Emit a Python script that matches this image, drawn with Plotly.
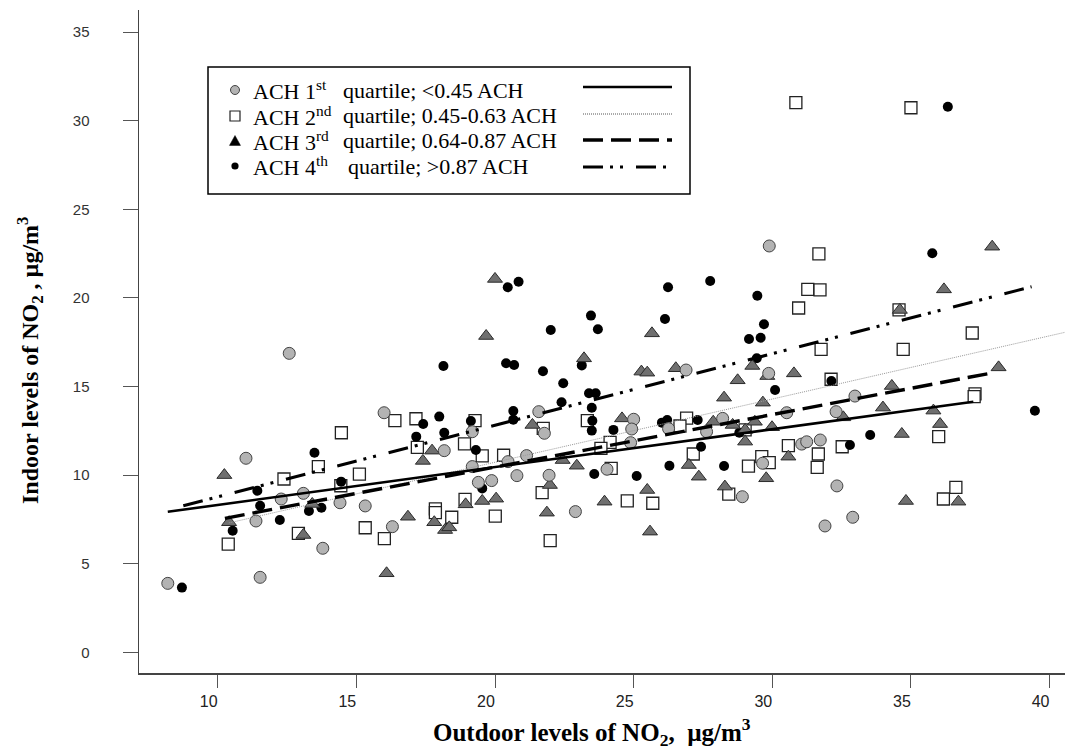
import plotly.graph_objects as go

# ---------------- data ----------------
q1_x = [12.58, 16.0, 11.02, 18.17, 13.09, 12.29, 14.41, 15.32, 11.38, 16.30, 13.79, 11.53, 8.20,
        26.89, 21.58, 25.0, 24.93, 21.78, 19.18, 26.26, 28.21, 27.63, 24.89, 19.18, 20.47, 21.14,
        24.04, 19.4, 19.88, 20.79, 21.95, 22.9, 28.92,
        29.89, 29.87, 32.98, 30.52, 32.3, 31.06, 31.24, 31.73, 29.65, 32.33, 32.9, 31.9]
q1_y = [16.87, 13.52, 10.95, 11.38, 8.97, 8.65, 8.44, 8.26, 7.41, 7.09, 5.87, 4.23, 3.89,
        15.93, 13.58, 13.15, 12.6, 12.36, 12.45, 12.62, 13.2, 12.45, 11.83, 10.48, 10.76, 11.1,
        10.33, 9.59, 9.69, 9.97, 9.99, 7.94, 8.78,
        22.93, 15.74, 14.46, 13.52, 13.58, 11.75, 11.88, 11.98, 10.67, 9.39, 7.62, 7.13]

q2_x = [16.39, 17.15, 14.46, 17.20, 13.63, 12.39, 15.11, 14.44, 17.85, 17.85, 18.44, 15.32, 12.91,
        16.01, 10.38,
        19.28, 21.74, 23.33, 26.91, 26.67, 18.9, 19.54, 20.31, 24.15, 23.82, 27.15, 24.19, 18.92,
        21.7, 20.01, 24.77, 25.69, 28.43, 21.99,
        30.85, 35.0, 31.68, 31.28, 31.72, 30.95, 34.57, 37.21, 31.76, 34.72, 32.12, 37.31, 37.28,
        29.02, 30.58, 32.52, 31.66, 31.62, 29.62, 29.89, 29.14, 36.0, 36.62, 36.17]
q2_y = [13.07, 13.18, 12.39, 11.57, 10.48, 9.78, 10.06, 9.40, 8.09, 7.88, 7.62, 7.03, 6.71,
        6.41, 6.11,
        13.07, 12.64, 13.07, 13.22, 12.77, 11.76, 11.08, 11.12, 11.85, 11.51, 11.19, 10.38, 8.63,
        9.01, 7.69, 8.54, 8.41, 8.93, 6.3,
        31.02, 30.73, 22.49, 20.48, 20.45, 19.43, 19.32, 18.02, 17.1, 17.1, 15.41, 14.58, 14.43,
        12.55, 11.66, 11.6, 11.19, 10.44, 11.04, 10.7, 10.51, 12.17, 9.31, 8.65]

q3_x = [10.24, 17.73, 17.40, 13.41, 10.41, 13.09, 16.86, 17.81, 18.2, 18.35, 16.09,
        20.0, 19.68, 25.66, 23.21, 25.28, 25.49, 26.52, 28.75, 28.26, 21.35, 24.58, 27.87, 28.57,
        22.44, 22.95, 26.99, 27.35, 21.98, 25.49, 28.29, 19.54, 20.04, 18.94, 23.95, 21.87, 25.59,
        37.93, 36.19, 34.6, 38.16, 29.28, 30.78, 29.82, 34.31, 29.66, 33.99, 32.56, 29.37, 29.99,
        35.81, 36.05, 29.02, 29.02, 34.67, 30.58, 29.78, 34.82, 36.71]
q3_y = [10.0, 11.38, 10.80, 8.37, 7.34, 6.62, 7.65, 7.34, 6.9, 7.05, 4.46,
        21.07, 17.85, 18.0, 16.59, 15.84, 15.78, 16.03, 15.35, 14.37, 12.83, 13.2, 13.01, 12.83,
        10.85, 10.53, 10.57, 9.91, 9.44, 9.16, 9.35, 8.54, 8.67, 8.35, 8.5, 7.88, 6.81,
        22.89, 20.48, 19.32, 16.08, 16.16, 15.74, 15.59, 15.03, 14.09, 13.81, 13.26, 13.01, 12.7,
        13.64, 12.88, 12.55, 11.89, 12.32, 11.04, 9.82, 8.54, 8.5]

q4_x = [18.14, 17.99, 17.41, 18.17, 17.16, 13.49, 14.45, 11.43, 11.53, 13.29, 13.74, 12.24, 10.54, 8.71,
        20.46, 20.85, 26.24, 27.76, 23.46, 26.13, 22.01, 23.71, 20.4, 20.69, 21.73, 23.13, 22.46,
        22.4, 23.39, 23.63, 23.49, 23.51, 23.49, 20.66, 20.66, 19.13, 24.27, 26.02, 26.21, 27.31,
        19.31, 19.54, 23.58, 25.11, 27.43, 26.29, 28.26, 28.81,
        36.33, 35.77, 29.46, 29.7, 29.16, 29.58, 29.44, 30.1, 32.13, 33.53, 32.8, 39.47]
q4_y = [16.16, 13.30, 12.88, 12.39, 12.17, 11.26, 9.63, 9.12, 8.27, 7.97, 8.16, 7.47, 6.86, 3.65,
        20.6, 20.91, 20.6, 20.95, 19.0, 18.81, 18.19, 18.23, 16.31, 16.21, 15.86, 16.19, 15.18,
        14.11, 14.62, 14.62, 13.8, 13.07, 12.51, 13.62, 13.13, 13.05, 12.55, 12.96, 13.11, 13.11,
        11.42, 9.25, 10.06, 9.95, 11.6, 10.53, 10.51, 12.39,
        30.79, 22.52, 20.12, 18.51, 17.68, 17.75, 16.59, 14.8, 15.31, 12.26, 11.7, 13.63]

# fitted regression lines (end points)
fit1_x = [8.2, 37.25];  fit1_y = [7.93, 14.14]
fit2_x = [10.4, 40.56]; fit2_y = [7.3, 18.06]
fit3_x = [10.26, 37.97]; fit3_y = [7.56, 15.78]
fit4_x = [8.76, 39.35]; fit4_y = [8.27, 20.63]

x_ticks = [10, 15, 20, 25, 30, 35, 40]
y_ticks = [0, 5, 10, 15, 20, 25, 30, 35]

legend_labels = [("ACH 1<sup>st</sup>", "quartile; <0.45 ACH"),
                 ("ACH 2<sup>nd</sup>", "quartile; 0.45-0.63 ACH"),
                 ("ACH 3<sup>rd</sup>", "quartile; 0.64-0.87 ACH"),
                 ("ACH 4<sup>th</sup>", "quartile; >0.87 ACH")]

# ---------------- figure ----------------
W, H = 1065, 749
ML, MR, MT, MB = 139, 0, 10, 76
PW, PH = W - ML - MR, H - MT - MB


def px(x):
    return (x - ML) / PW


def py(y):
    return (H - MB - y) / PH


SERIF = "Liberation Serif, Times New Roman, serif"

fig = go.Figure()

fig.add_trace(go.Scatter(x=q2_x, y=q2_y, mode="markers", name="ACH 2nd",
                         marker=dict(symbol="square", size=12, color="white",
                                     line=dict(color="#222222", width=1.3))))
fig.add_trace(go.Scatter(x=q4_x, y=q4_y, mode="markers", name="ACH 4th",
                         marker=dict(symbol="circle", size=10, color="black",
                                     line=dict(color="black", width=0))))
fig.add_trace(go.Scatter(x=q3_x, y=q3_y, mode="markers", name="ACH 3rd",
                         marker=dict(symbol="triangle-up", size=13, color="#6f6f6f",
                                     line=dict(color="#2b2b2b", width=1))))
fig.add_trace(go.Scatter(x=q1_x, y=q1_y, mode="markers", name="ACH 1st",
                         marker=dict(symbol="circle", size=12, color="#b3b3b3",
                                     line=dict(color="#444444", width=1))))

fig.add_trace(go.Scatter(x=fit2_x, y=fit2_y, mode="lines",
                         line=dict(color="#9a9a9a", width=1, dash="1px,1px")))
fig.add_trace(go.Scatter(x=fit1_x, y=fit1_y, mode="lines",
                         line=dict(color="black", width=2.6)))
fig.add_trace(go.Scatter(x=fit3_x, y=fit3_y, mode="lines",
                         line=dict(color="black", width=3.4, dash="20px,8px")))
fig.add_trace(go.Scatter(x=fit4_x, y=fit4_y, mode="lines",
                         line=dict(color="black", width=3, dash="20px,7px,3px,7px,3px,13px")))

# ---------------- manual legend ----------------
shapes = []
annotations = []
shapes.append(dict(type="rect", xref="paper", yref="paper",
                   x0=px(208), x1=px(690), y0=py(67), y1=py(194),
                   line=dict(color="black", width=1.5), fillcolor="white", layer="above"))
rows = [90, 116, 141, 166]
mx = 235
r = 4.5
shapes.append(dict(type="circle", xref="paper", yref="paper",
                   x0=px(mx - r), x1=px(mx + r), y0=py(rows[0] + r), y1=py(rows[0] - r),
                   fillcolor="#b3b3b3", line=dict(color="#444444", width=1), layer="above"))
s = 5
shapes.append(dict(type="rect", xref="paper", yref="paper",
                   x0=px(mx - s), x1=px(mx + s), y0=py(rows[1] + s), y1=py(rows[1] - s),
                   fillcolor="white", line=dict(color="#222222", width=1.2), layer="above"))
t = 5.5
shapes.append(dict(type="path", xref="paper", yref="paper",
                   path="M %f %f L %f %f L %f %f Z" % (px(mx - t), py(rows[2] + t * 0.8),
                                                        px(mx + t), py(rows[2] + t * 0.8),
                                                        px(mx), py(rows[2] - t)),
                   fillcolor="black", line=dict(color="black", width=0.5), layer="above"))
d = 3.6
shapes.append(dict(type="circle", xref="paper", yref="paper",
                   x0=px(mx - d), x1=px(mx + d), y0=py(rows[3] + d), y1=py(rows[3] - d),
                   fillcolor="black", line=dict(color="black", width=0), layer="above"))

lines_def = [dict(color="black", width=2.6, dash="solid"),
             dict(color="#555555", width=1, dash="1px,1px"),
             dict(color="black", width=3.4, dash="20px,8px"),
             dict(color="black", width=3, dash="20px,7px,3px,7px,3px,13px")]
line_rows = [87, 114, 140, 167]
for yy, ld in zip(line_rows, lines_def):
    shapes.append(dict(type="line", xref="paper", yref="paper",
                       x0=px(583), x1=px(672), y0=py(yy), y1=py(yy),
                       line=ld, layer="above"))

qx = [341, 341, 341, 346]
for (a, b), yy, qxx in zip(legend_labels, rows, qx):
    annotations.append(dict(xref="paper", yref="paper", x=px(251), y=py(yy),
                            text=a, showarrow=False, xanchor="left", yanchor="middle",
                            font=dict(family=SERIF, size=22, color="black")))
    annotations.append(dict(xref="paper", yref="paper", x=px(qxx), y=py(yy),
                            text=b, showarrow=False, xanchor="left", yanchor="middle",
                            font=dict(family=SERIF, size=22, color="black")))

# axis titles
annotations.append(dict(xref="paper", yref="paper", x=px(592), y=py(732),
                        text="Outdoor levels of NO<sub>2</sub>,  µg/m<sup>3</sup>",
                        showarrow=False, xanchor="center", yanchor="middle",
                        font=dict(family=SERIF, size=25, color="black", weight="bold")))
annotations.append(dict(xref="paper", yref="paper", x=px(30), y=py(360),
                        text="Indoor levels of NO<sub>2</sub> , µg/m<sup>3</sup>",
                        showarrow=False, xanchor="center", yanchor="middle", textangle=-90,
                        font=dict(family=SERIF, size=24, color="black", weight="bold")))

x0v = 10 - (217.7 - ML) / 27.73
y0v = (652.3 - (H - MB)) / 17.72
fig.update_layout(
    width=W, height=H,
    margin=dict(l=ML, r=MR, t=MT, b=MB, pad=0),
    paper_bgcolor="white", plot_bgcolor="white",
    showlegend=False,
    shapes=shapes, annotations=annotations,
    xaxis=dict(range=[x0v, x0v + PW / 27.73],
               tickmode="array", tickvals=x_ticks, ticktext=[str(v) for v in x_ticks],
               showgrid=False, zeroline=False, showline=True, linecolor="#444444", linewidth=1.5,
               ticks="outside", ticklen=13, tickwidth=1, tickcolor="#555555",
               ticklabelshift=-9,
               tickfont=dict(family="Liberation Sans Narrow, Arial Narrow, Liberation Sans, sans-serif",
                             size=16, color="#222222")),
    yaxis=dict(range=[y0v, y0v + PH / 17.72],
               tickmode="array", tickvals=y_ticks, ticktext=[str(v) for v in y_ticks],
               showgrid=False, zeroline=False, showline=True, linecolor="#444444", linewidth=1.5,
               ticks="outside", ticklen=15, tickwidth=1, tickcolor="#555555",
               ticklabelstandoff=30,
               tickfont=dict(family="Liberation Sans, Arial, sans-serif", size=15, color="#333333")),
)

fig.write_html("out.html",
               config={"displayModeBar": False, "staticPlot": True},
               post_script="document.body.style.margin='0';document.body.style.overflow='hidden';")
